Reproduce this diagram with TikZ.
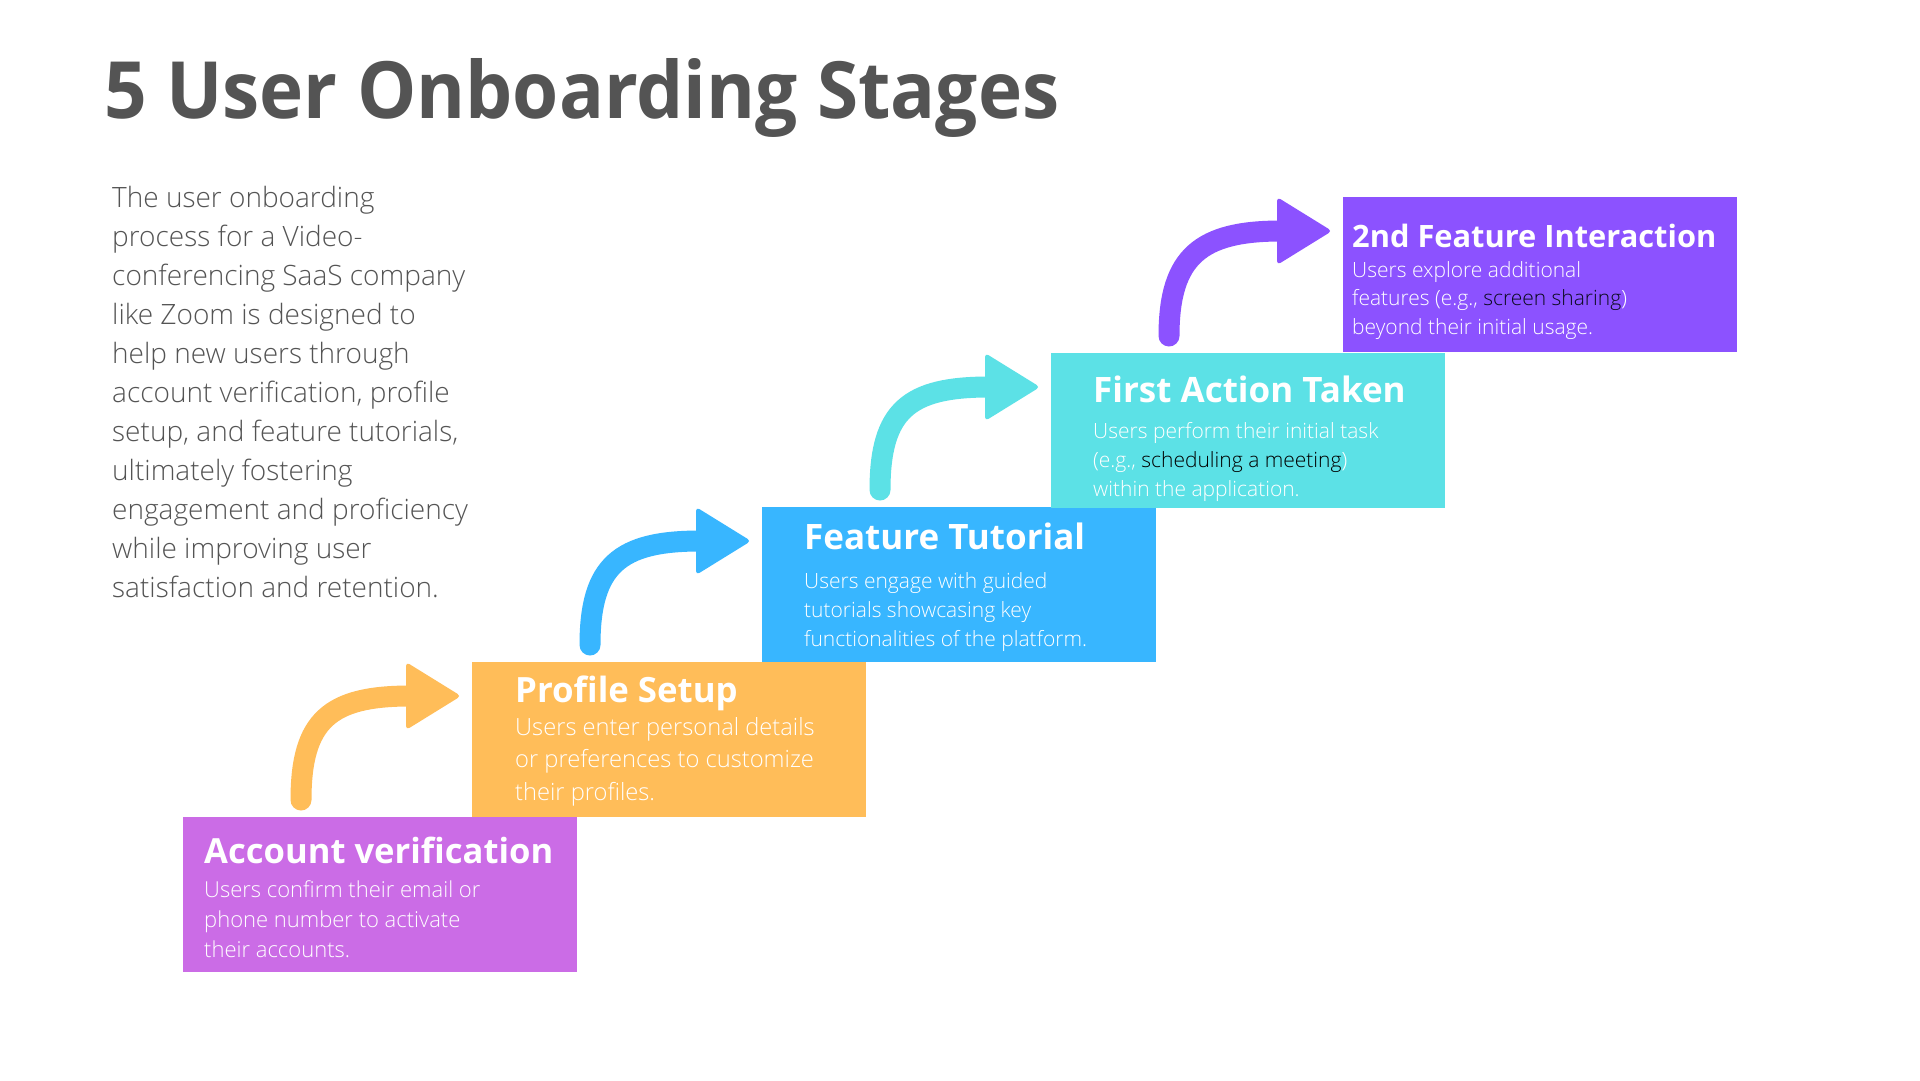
\documentclass[tikz,border=0pt]{standalone}
\usepackage{fontspec}
\setmainfont{Open Sans}
\IfFontExistsTF{Open Sans Light}{\newfontfamily\lightfont{Open Sans Light}}{\newfontfamily\lightfont{Open Sans}}
\usetikzlibrary{calc}
\definecolor{cpurple}{HTML}{CB6CE6}
\definecolor{corange}{HTML}{FFBD59}
\definecolor{cblue}{HTML}{38B6FF}
\definecolor{ccyan}{HTML}{5CE1E6}
\definecolor{cviolet}{HTML}{8C52FF}
\definecolor{cgray}{HTML}{545454}
\definecolor{hl}{HTML}{0A0A1E}
\tikzset{
  stagebox/.style={anchor=north west, inner sep=0pt, minimum width=394pt, minimum height=155pt, draw=none},
  txt/.style={inner sep=0pt, anchor=base west},
  boxtitle/.style={txt, text=white, font=\bfseries\fontsize{#1}{#1}\selectfont},
  boxbody/.style={txt, text=white, font=\lightfont\fontsize{21}{29}\selectfont},
}
\begin{document}
\begin{tikzpicture}[x=1pt,y=-1pt]
\fill[white] (0,0) rectangle (1920,1080);
\useasboundingbox (0,0) rectangle (1920,1080);

% title
\node[txt, text=cgray, font=\bfseries\fontsize{79}{96}\selectfont, xscale=0.945, transform shape] (title) at (104,118) {5 User Onboarding Stages};

% intro paragraph
\node[txt, text=cgray, font=\lightfont\fontsize{28}{39}\selectfont] (intro) at (112,207)
 {\parbox[t]{420pt}{\raggedright The user onboarding\\process for a Video-\\conferencing SaaS company\\like Zoom is designed to\\help new users through\\account verification, profile\\setup, and feature tutorials,\\ultimately fostering\\engagement and proficiency\\while improving user\\satisfaction and retention.}};

% boxes
\node[stagebox, fill=cpurple] (b1) at (183,817) {};
\node[stagebox, fill=corange] (b2) at (472,662) {};
\node[stagebox, fill=cblue]   (b3) at (762,507) {};
\node[stagebox, fill=ccyan]   (b4) at (1051,353) {};
\node[stagebox, fill=cviolet] (b5) at (1343,197) {};

% arrows
\foreach \a/\b/\c in {b1/b2/corange, b2/b3/cblue, b3/b4/ccyan, b4/b5/cviolet} {
  \draw[line width=21pt, color=\c, line cap=round]
    ($(\a.north west)+(118,-17)$) .. controls ($(\a.north west)+(118,-97)$) and ($(\b.north west)+(-142,34)$) .. ($(\b.north west)+(-62,34)$);
  \fill[color=\c, rounded corners=4pt]
    ($(\b.north west)+(-66,0)$) -- ($(\b.north west)+(-11,34)$) -- ($(\b.north west)+(-66,68)$) -- cycle;
}

% texts
\node[boxtitle=34.6] (t1) at (204,863) {Account verification};
\node[boxbody, font=\lightfont\fontsize{22}{30}\selectfont] (d1) at (204,897)
 {\parbox[t]{380pt}{Users confirm their email or\\phone number to activate\\their accounts.}};

\node[boxtitle=34.8] (t2) at (515,702) {Profile Setup};
\node[boxbody, font=\lightfont\fontsize{23.7}{32.5}\selectfont] (d2) at (515,735)
 {\parbox[t]{380pt}{Users enter personal details\\or preferences to customize\\their profiles.}};

\node[boxtitle=35] (t3) at (804,549) {Feature Tutorial};
\node[boxbody] (d3) at (804,588)
 {\parbox[t]{380pt}{Users engage with guided\\tutorials showcasing key\\functionalities of the platform.}};

\node[boxtitle=35] (t4) at (1093,402) {First Action Taken};
\node[boxbody] (d4) at (1093,438)
 {\parbox[t]{380pt}{Users perform their initial task\\(e.g., {\color{black}scheduling a meeting})\\within the application.}};

\node[boxtitle=30.8] (t5) at (1352,247) {2nd Feature Interaction};
\node[boxbody, font=\lightfont\fontsize{21}{28.5}\selectfont] (d5) at (1352,277)
 {\parbox[t]{380pt}{Users explore additional\\features (e.g., {\color{hl}screen sharing})\\beyond their initial usage.}};
\end{tikzpicture}
\end{document}
